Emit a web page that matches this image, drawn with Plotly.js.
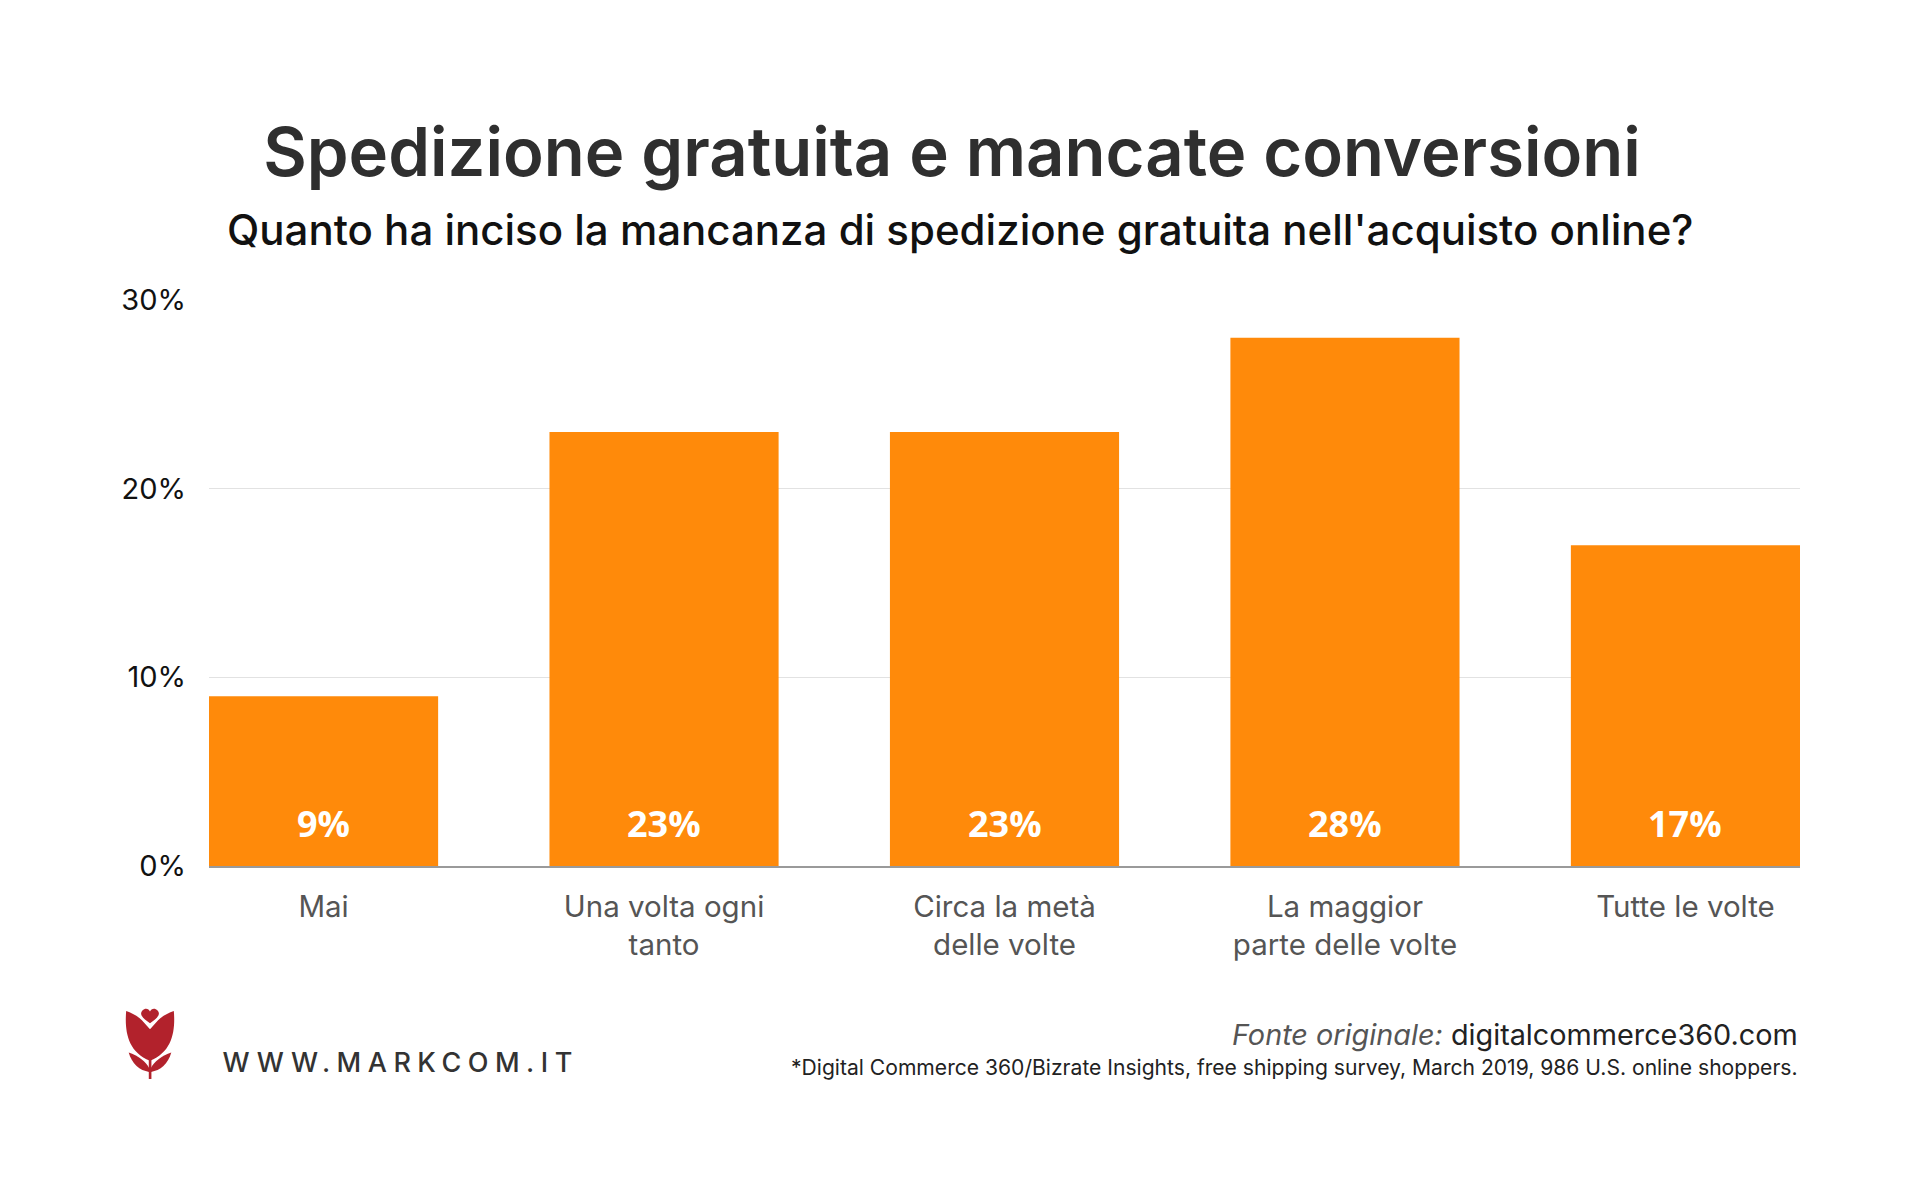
<!DOCTYPE html>
<html>
<head>
<meta charset="utf-8">
<script src="https://cdn.plot.ly/plotly-3.0.1.min.js"></script>
<style>
  html, body { margin: 0; padding: 0; background: #ffffff; }
  #chart { width: 1920px; height: 1200px; }
</style>
</head>
<body>
<div id="chart"></div>
<script>
// ---- Data ----
const categories = ['Mai', 'Una volta ogni tanto', 'Circa la metà delle volte', 'La maggior parte delle volte', 'Tutte le volte'];
const tickLabels = ['Mai', 'Una volta ogni<br>tanto', 'Circa la metà<br>delle volte', 'La maggior<br>parte delle volte', 'Tutte le volte'];
const values = [9, 23, 23, 28, 17];
const yTicks = [0, 10, 20, 30];

const titleText = 'Spedizione gratuita e mancate conversioni';
const subtitleText = "Quanto ha inciso la mancanza di spedizione gratuita nell'acquisto online?";
const brandText = 'WWW.MARKCOM.IT';
const sourceLabel = 'Fonte originale:';
const sourceSite = 'digitalcommerce360.com';
const footnoteText = '*Digital Commerce 360/Bizrate Insights, free shipping survey, March 2019, 986 U.S. online shoppers.';

// ---- Layout geometry (pixels) ----
const W = 1920, H = 1200;
const PL = 209, PR = 1800, PT = 300, PB = 866;
const px = x => (x - PL) / (PR - PL);
const py = y => (PB - y) / (PB - PT);

const FONT = 'Inter, "Open Sans", "DejaVu Sans", sans-serif';
const barColor = '#FF8A0A';

const barWidth = 0.673;
const brandSpacing = 6.5;

const logoSvg = '<svg xmlns="http://www.w3.org/2000/svg" viewBox="0 0 50 72">' +
  '<g fill="#B2222C">' +
  '<path d="M25,16 C18,11 14,7.5 17.5,3.5 C20.5,0.5 24,2 25,4.5 C26,2 29.5,0.5 32.5,3.5 C36,7.5 32,11 25,16 Z"/>' +
  '<path d="M1.5,4 C7,6 13,9 17,13 L25,22 L33,13 C37,9 43,6 48.5,4 C50,22 48,44 25,53 C2,44 0,22 1.5,4 Z"/>' +
  '<rect x="23.8" y="50" width="2.6" height="21"/>' +
  '<path d="M24,64 C15,63 7,56 4,45 C13,48 21,54 24,60 Z"/>' +
  '<path d="M26,64 C35,63 43,56 46,45 C37,48 29,54 26,60 Z"/>' +
  '</g></svg>';
const logoSrc = 'data:image/svg+xml;charset=utf-8,' + encodeURIComponent(logoSvg);

const trace = {
  type: 'bar',
  x: categories,
  y: values,
  width: barWidth,
  marker: { color: barColor, line: { width: 0 } },
  hoverinfo: 'x+y'
};

const annotations = [];
// value labels inside the bars, near the base
categories.forEach((c, i) => {
  annotations.push({
    x: c, y: 0, xref: 'x', yref: 'y',
    text: '<b>' + values[i] + '%</b>',
    showarrow: false, xanchor: 'center', yanchor: 'bottom', yshift: 16,
    font: { family: '"Open Sans", sans-serif', size: 36, color: '#ffffff' }
  });
});
// subtitle
annotations.push({
  xref: 'paper', yref: 'paper', x: px(960), y: py(229),
  xanchor: 'center', yanchor: 'middle', showarrow: false,
  text: subtitleText,
  font: { family: FONT, size: 42, color: '#111111', weight: 500 }
});
// brand (text box widened afterwards by letter spacing, so offset by half the extra width)
annotations.push({
  xref: 'paper', yref: 'paper', x: px(220 + brandSpacing * brandText.length / 2), y: py(1062),
  xanchor: 'left', yanchor: 'middle', showarrow: false,
  text: brandText,
  font: { family: FONT, size: 27, color: '#333333', weight: 500 }
});
// source
annotations.push({
  xref: 'paper', yref: 'paper', x: 1, y: py(1034),
  xanchor: 'right', yanchor: 'middle', showarrow: false,
  text: '<i><span style="color:#555555">' + sourceLabel + '</span></i> ' + sourceSite,
  font: { family: FONT, size: 28.8, color: '#222222' }
});
// footnote
annotations.push({
  xref: 'paper', yref: 'paper', x: 1, y: py(1067),
  xanchor: 'right', yanchor: 'middle', showarrow: false,
  text: footnoteText,
  font: { family: FONT, size: 21.1, color: '#222222' }
});

const layout = {
  width: W, height: H,
  margin: { l: PL, r: W - PR, t: PT, b: H - PB, pad: 0 },
  paper_bgcolor: '#ffffff', plot_bgcolor: '#ffffff',
  showlegend: false,
  title: {
    text: titleText,
    x: 952 / W, xref: 'container', xanchor: 'center',
    y: 1 - 153 / H, yref: 'container', yanchor: 'middle',
    font: { family: FONT, size: 67, color: '#2f2f2f', weight: 600 }
  },
  xaxis: {
    type: 'category',
    range: [-barWidth / 2, categories.length - 1 + barWidth / 2],
    tickvals: categories, ticktext: tickLabels,
    showgrid: false, zeroline: false,
    showline: true, linecolor: '#9a9a9a', linewidth: 1.5,
    ticks: '', ticklabelstandoff: 14,
    tickfont: { family: FONT, size: 29.5, color: '#555555' },
    fixedrange: true
  },
  yaxis: {
    range: [0, 30],
    tickvals: yTicks, ticktext: yTicks.map(v => v + '%'),
    showgrid: true, gridcolor: '#e2e2e2', gridwidth: 1.5,
    zeroline: false, showline: false,
    ticks: '', ticklabelstandoff: 22,
    tickfont: { family: FONT, size: 29, color: '#111111' },
    fixedrange: true
  },
  annotations: annotations,
  images: [{
    source: logoSrc, xref: 'paper', yref: 'paper',
    x: px(123), y: py(1007), sizex: px(177) - px(123), sizey: py(1007) - py(1080),
    xanchor: 'left', yanchor: 'top', sizing: 'contain', layer: 'above'
  }]
};

Plotly.newPlot('chart', [trace], layout, { displayModeBar: false, staticPlot: true }).then(gd => {
  // letter-spaced brand text
  gd.querySelectorAll('.annotation-text').forEach(t => {
    if (t.textContent === brandText) t.style.letterSpacing = brandSpacing + 'px';
  });
});
</script>
</body>
</html>
